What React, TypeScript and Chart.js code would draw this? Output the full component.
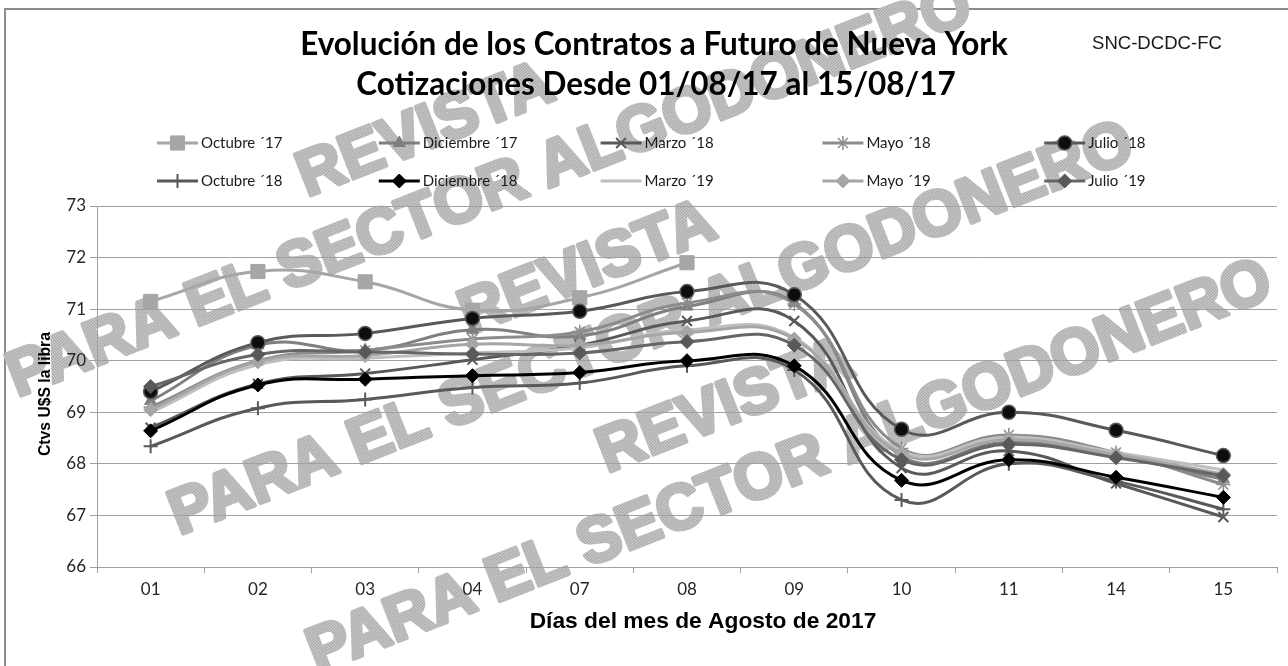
import React, { useEffect, useRef } from 'react';
import { Chart, registerables } from 'chart.js';
import { drawPoint } from 'chart.js/helpers';

Chart.register(...registerables);

// ---------- data ----------
const days = ['01', '02', '03', '04', '07', '08', '09', '10', '11', '14', '15'];

const seriesLabels = [
  'Octubre ´17', 'Diciembre ´17', 'Marzo ´18', 'Mayo ´18', 'Julio ´18',
  'Octubre ´18', 'Diciembre ´18', 'Marzo ´19', 'Mayo ´19', 'Julio ´19',
];

const octubre17 = [71.15, 71.73, 71.53, 70.98, 71.22, 71.9, null, null, null, null, null];
const diciembre17 = [69.22, 70.3, 70.2, 70.6, 70.48, 71.05, 71.12, 68.15, 68.42, 68.15, 67.7];
const marzo18 = [68.7, 69.55, 69.75, 70.02, 70.3, 70.77, 70.77, 67.92, 68.25, 67.62, 66.97];
const mayo18 = [69.1, 70.0, 70.2, 70.42, 70.56, 71.12, 71.1, 68.3, 68.56, 68.22, 67.6];
const julio18 = [69.4, 70.35, 70.53, 70.82, 70.96, 71.34, 71.28, 68.67, 69.0, 68.65, 68.16];
const octubre18 = [68.34, 69.08, 69.25, 69.48, 69.57, 69.9, 69.82, 67.3, 68.0, 67.66, 67.12];
const diciembre18 = [68.64, 69.53, 69.64, 69.71, 69.77, 70.0, 69.9, 67.68, 68.08, 67.74, 67.35];
const marzo19 = [69.0, 69.92, 70.05, 70.15, 70.25, 70.6, 70.45, 68.25, 68.52, 68.22, 67.88];
const mayo19 = [69.05, 69.98, 70.1, 70.32, 70.3, 70.55, 70.42, 68.2, 68.47, 68.18, 67.8];
const julio19 = [69.5, 70.12, 70.17, 70.13, 70.15, 70.37, 70.3, 68.08, 68.38, 68.12, 67.77];

const seriesData = [
  octubre17, diciembre17, marzo18, mayo18, julio18,
  octubre18, diciembre18, marzo19, mayo19, julio19,
];

const yTicksMin = 66;
const yTicksMax = 73;

const titleLines = ['Evolución de los Contratos a Futuro de Nueva York', 'Cotizaciones Desde 01/08/17 al 15/08/17'];
const codeText = 'SNC-DCDC-FC';
const xTitle = 'Días del mes de Agosto de 2017';
const yTitle = 'Ctvs U$S la libra';
const wmLine1 = 'REVISTA';
const wmLine2 = 'PARA EL SECTOR ALGODONERO';

// ---------- styles ----------
type Sty = { line: string; fill: string; border: string; style: any; r: number; bw: number };
const styles: Sty[] = [
  { line: '#a6a6a6', fill: '#a6a6a6', border: '#a6a6a6', style: 'rect', r: 10, bw: 1 },
  { line: '#7f7f7f', fill: '#7f7f7f', border: '#7f7f7f', style: 'triangle', r: 7, bw: 1 },
  { line: '#595959', fill: '#595959', border: '#595959', style: 'crossRot', r: 7, bw: 2 },
  { line: '#8c8c8c', fill: '#8c8c8c', border: '#8c8c8c', style: 'star', r: 7, bw: 1.5 },
  { line: '#595959', fill: '#0d0d0d', border: '#595959', style: 'circle', r: 7, bw: 1.5 },
  { line: '#595959', fill: '#595959', border: '#595959', style: 'cross', r: 7, bw: 2 },
  { line: '#000000', fill: '#000000', border: '#000000', style: 'rectRot', r: 7, bw: 1 },
  { line: '#bfbfbf', fill: '#bfbfbf', border: '#bfbfbf', style: false, r: 0, bw: 0 },
  { line: '#a6a6a6', fill: '#a6a6a6', border: '#a6a6a6', style: 'rectRot', r: 7, bw: 1 },
  { line: '#666666', fill: '#595959', border: '#595959', style: 'rectRot', r: 7, bw: 1 },
];

const SANS = "'Liberation Sans', Arial, sans-serif";
const CAL = "Lato, 'Noto Sans', sans-serif";

function fitSize(ctx: CanvasRenderingContext2D, text: string, weight: string, family: string, target: number) {
  ctx.font = `${weight} 100px ${family}`;
  const w = ctx.measureText(text).width;
  return (100 * target) / w;
}

let patternCache: CanvasPattern | null = null;
function getPattern(ctx: CanvasRenderingContext2D) {
  if (patternCache) return patternCache;
  const pc = document.createElement('canvas');
  pc.width = 2;
  pc.height = 2;
  const p = pc.getContext('2d')!;
  p.fillStyle = '#d6d6d6';
  p.fillRect(0, 0, 2, 2);
  p.fillStyle = '#9e9e9e';
  p.fillRect(0, 0, 1, 1);
  p.fillRect(1, 1, 1, 1);
  patternCache = ctx.createPattern(pc, 'repeat');
  return patternCache;
}

const decorPlugin = {
  id: 'decor',
  beforeDraw(chart: any) {
    const ctx: CanvasRenderingContext2D = chart.ctx;
    ctx.save();
    ctx.fillStyle = '#ffffff';
    ctx.fillRect(0, 0, chart.width, chart.height);
    // outer frame
    ctx.strokeStyle = '#8c8c8c';
    ctx.lineWidth = 2;
    ctx.strokeRect(5, 9, chart.width + 20, chart.height + 20);
    // watermark
    const wmSize = 64;
    ctx.font = `bold ${wmSize}px ${SANS}`;
    const natural = ctx.measureText(wmLine2).width;
    const sx = 1030 / natural;
    ctx.textAlign = 'center';
    ctx.textBaseline = 'middle';
    const centers = [
      [490, 192],
      [652, 330],
      [790, 468],
    ];
    const pat = getPattern(ctx);
    for (const [cx, cy] of centers) {
      ctx.save();
      ctx.translate(cx, cy);
      ctx.rotate((-21.5 * Math.PI) / 180);
      ctx.scale(sx, 1);
      ctx.fillStyle = pat as any;
      ctx.strokeStyle = pat as any;
      ctx.lineWidth = 4;
      ctx.lineJoin = 'round';
      ctx.fillText(wmLine2, 0, 0);
      ctx.strokeText(wmLine2, 0, 0);
      ctx.fillText(wmLine1, -38, -80);
      ctx.strokeText(wmLine1, -38, -80);
      ctx.restore();
    }
    ctx.restore();
  },
  afterDraw(chart: any) {
    const ctx: CanvasRenderingContext2D = chart.ctx;
    ctx.save();
    // title
    const ts = fitSize(ctx, titleLines[0], 'bold', CAL, 708);
    ctx.font = `bold ${ts}px ${CAL}`;
    ctx.fillStyle = '#000';
    ctx.textAlign = 'center';
    ctx.textBaseline = 'middle';
    ctx.fillText(titleLines[0], 654, 45);
    ctx.fillText(titleLines[1], 656, 85);
    // code
    const cs = fitSize(ctx, codeText, 'normal', SANS, 130);
    ctx.font = `normal ${cs}px ${SANS}`;
    ctx.textAlign = 'left';
    ctx.fillStyle = '#1a1a1a';
    ctx.fillText(codeText, 1092, 44);
    // axis titles
    const xs = fitSize(ctx, xTitle, 'bold', SANS, 347);
    ctx.font = `bold ${xs}px ${SANS}`;
    ctx.textAlign = 'center';
    ctx.fillStyle = '#000';
    ctx.fillText(xTitle, 703, 622);
    const ys = fitSize(ctx, yTitle, 'bold', SANS, 124);
    ctx.font = `bold ${ys}px ${SANS}`;
    ctx.save();
    ctx.translate(46, 394);
    ctx.rotate(-Math.PI / 2);
    ctx.fillText(yTitle, 0, 0);
    ctx.restore();
    // legend
    ctx.font = `normal 15px ${CAL}`;
    ctx.textAlign = 'left';
    ctx.textBaseline = 'middle';
    seriesLabels.forEach((lab, i) => {
      const st = styles[i];
      const col = i % 5;
      const row = Math.floor(i / 5);
      const x0 = 157 + col * 221.8;
      const y = 143 + row * 38;
      ctx.beginPath();
      ctx.strokeStyle = st.line;
      ctx.lineWidth = 3;
      ctx.moveTo(x0, y);
      ctx.lineTo(x0 + 41, y);
      ctx.stroke();
      if (st.style) {
        ctx.fillStyle = st.fill;
        ctx.strokeStyle = st.border;
        ctx.lineWidth = st.bw;
        drawPoint(ctx, { pointStyle: st.style, radius: st.r, rotation: 0, borderWidth: st.bw } as any, x0 + 20.5, y);
      }
      ctx.fillStyle = '#1a1a1a';
      ctx.fillText(lab, x0 + 44, y);
    });
    ctx.restore();
  },
};

export default function App() {
  const ref = useRef<HTMLCanvasElement | null>(null);
  useEffect(() => {
    if (!ref.current) return;
    const datasets = seriesData.map((d, i) => {
      const st = styles[i];
      return {
        label: seriesLabels[i],
        data: d,
        borderColor: st.line,
        backgroundColor: st.fill,
        borderWidth: 3,
        pointStyle: st.style,
        pointRadius: st.r,
        pointBackgroundColor: st.fill,
        pointBorderColor: st.border,
        pointBorderWidth: st.bw,
        tension: 0.45,
        spanGaps: false,
        order: 20 - i,
      };
    });
    const chart = new Chart(ref.current, {
      type: 'line',
      data: { labels: days, datasets },
      options: {
        responsive: false,
        animation: false,
        devicePixelRatio: 1,
        layout: { padding: { left: 0, right: 11, top: 206, bottom: 0 } },
        plugins: { legend: { display: false }, tooltip: { enabled: false }, title: { display: false } },
        scales: {
          x: {
            type: 'category',
            offset: true,
            grid: { display: true, drawOnChartArea: false, drawTicks: true, tickLength: 6, color: '#a0a0a0', offset: true },
            border: { display: true, color: '#a0a0a0' },
            ticks: { font: { family: 'Lato', size: 17 }, color: '#262626', padding: 6, maxRotation: 0, autoSkip: false },
            afterFit: (s: any) => {
              s.height = 99;
            },
          },
          y: {
            min: yTicksMin,
            max: yTicksMax,
            grid: { color: '#a0a0a0', tickLength: 7, drawTicks: true },
            border: { display: true, color: '#a0a0a0' },
            ticks: { stepSize: 1, font: { family: 'Lato', size: 17 }, color: '#262626', padding: 4 },
            afterFit: (s: any) => {
              s.width = 97;
            },
          },
        },
      } as any,
      plugins: [decorPlugin],
    });
    return () => chart.destroy();
  }, []);
  return (
    <div style={{ position: 'absolute', left: 0, top: 0, width: 1288, height: 666 }}>
      <canvas ref={ref} width={1288} height={666} />
    </div>
  );
}
